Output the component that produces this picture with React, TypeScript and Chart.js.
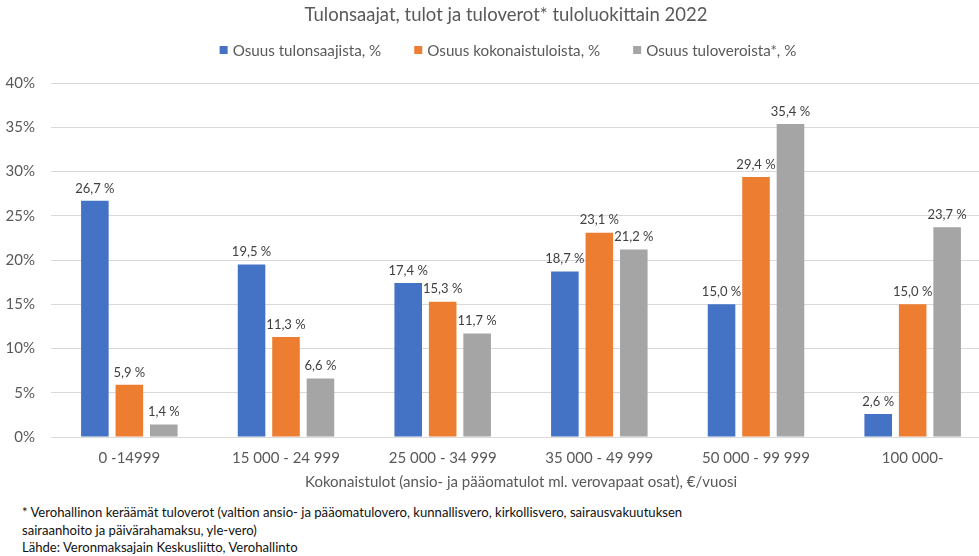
import React, { useEffect, useRef } from "react";
import { Chart, registerables } from "chart.js";

Chart.register(...registerables);

const titleText = "Tulonsaajat, tulot ja tuloverot* tuloluokittain 2022";
const categories = ["0 -14999", "15 000 - 24 999", "25 000 - 34 999", "35 000 - 49 999", "50 000 - 99 999", "100 000-"];
const seriesNames = ["Osuus tulonsaajista, %", "Osuus kokonaistuloista, %", "Osuus tuloveroista*, %"];
const shareOfEarners = [26.7, 19.5, 17.4, 18.7, 15.0, 2.6];
const shareOfIncome = [5.9, 11.3, 15.3, 23.1, 29.4, 15.0];
const shareOfTaxes = [1.4, 6.6, 11.7, 21.2, 35.4, 23.7];
const seriesColors = ["#4472C4", "#ED7D31", "#A5A5A5"];
const yMin = 0;
const yMax = 40;
const yStep = 5;
const xAxisTitle = "Kokonaistulot (ansio- ja pääomatulot ml. verovapaat osat), €/vuosi";
const footnoteLines = [
  "* Verohallinon keräämät tuloverot (valtion ansio- ja pääomatulovero, kunnallisvero, kirkollisvero, sairausvakuutuksen",
  "sairaanhoito ja päivärahamaksu, yle-vero)",
  "Lähde: Veronmaksajain Keskusliitto, Verohallinto",
];

const FONT = "Lato, 'Open Sans', sans-serif";
const TEXT = "#595959";

const fmt = (v: number) => v.toFixed(1).replace(".", ",") + " %";

const dataLabelPlugin = {
  id: "dataLabels",
  afterDatasetsDraw(chart: any) {
    const ctx = chart.ctx;
    ctx.save();
    ctx.font = `13px ${FONT}`;
    ctx.fillStyle = "#404040";
    ctx.textAlign = "center";
    ctx.textBaseline = "bottom";
    chart.data.datasets.forEach((ds: any, i: number) => {
      const meta = chart.getDatasetMeta(i);
      meta.data.forEach((el: any, j: number) => {
        ctx.fillText(fmt(ds.data[j]), el.x, el.y - 6);
      });
    });
    ctx.restore();
  },
};

const titleShiftPlugin = {
  id: "titleShift",
  afterLayout(chart: any) {
    const tb = chart.titleBlock;
    if (tb) {
      tb.left = 21;
      tb.right = 991;
      tb.width = tb.right - tb.left;
    }
  },
};

const customLegendPlugin = {
  id: "customLegend",
  afterDraw(chart: any) {
    const ctx = chart.ctx;
    ctx.save();
    ctx.font = `15.2px ${FONT}`;
    const box = 8;
    const boxGap = 5;
    const itemGap = 33;
    const widths = seriesNames.map((n) => box + boxGap + ctx.measureText(n).width);
    const total = widths.reduce((a, b) => a + b, 0) + itemGap * (widths.length - 1);
    let x = 508 - total / 2;
    const y = 50;
    ctx.textBaseline = "middle";
    ctx.textAlign = "left";
    seriesNames.forEach((n, i) => {
      ctx.fillStyle = seriesColors[i];
      ctx.fillRect(x, y - box / 2, box, box);
      ctx.fillStyle = TEXT;
      ctx.fillText(n, x + box + boxGap, y + 1);
      x += widths[i] + itemGap;
    });
    ctx.restore();
  },
};

export default function App() {
  const ref = useRef<HTMLCanvasElement | null>(null);

  useEffect(() => {
    if (!ref.current) return;
    const chart = new Chart(ref.current, {
      type: "bar",
      data: {
        labels: categories,
        datasets: [
          { label: seriesNames[0], data: shareOfEarners, backgroundColor: seriesColors[0] },
          { label: seriesNames[1], data: shareOfIncome, backgroundColor: seriesColors[1] },
          { label: seriesNames[2], data: shareOfTaxes, backgroundColor: seriesColors[2] },
        ],
      },
      options: {
        responsive: false,
        animation: false,
        devicePixelRatio: 1,
        layout: { padding: { left: 0, right: 23, top: 0, bottom: 5 } },
        datasets: {
          bar: { categoryPercentage: 0.66, barPercentage: 0.8 },
        },
        plugins: {
          legend: { display: false },
          tooltip: { enabled: false },
          title: {
            display: true,
            text: titleText,
            color: TEXT,
            font: { family: FONT, size: 18.5, weight: "normal" },
            padding: { top: 4, bottom: 57 },
          },
        },
        scales: {
          x: {
            grid: { display: false, drawTicks: false },
            border: { display: true, color: "#D9D9D9" },
            ticks: { color: TEXT, font: { family: FONT, size: 15 }, padding: 12, maxRotation: 0, autoSkip: false },
            title: {
              display: true,
              text: xAxisTitle,
              color: TEXT,
              font: { family: FONT, size: 15 },
              padding: { top: 6, bottom: 4 },
            },
            afterFit: (scale: any) => {
              scale.height = 58;
            },
          },
          y: {
            min: yMin,
            max: yMax,
            border: { display: false },
            grid: { color: "#D9D9D9", drawTicks: false },
            ticks: {
              stepSize: yStep,
              color: TEXT,
              font: { family: FONT, size: 15 },
              padding: 16,
              callback: (v: any) => `${v}%`,
            },
            afterFit: (scale: any) => {
              scale.width = 51;
            },
          },
        },
      },
      plugins: [dataLabelPlugin, customLegendPlugin, titleShiftPlugin],
    });
    return () => chart.destroy();
  }, []);

  return (
    <div style={{ position: "fixed", left: 0, top: 0, width: 979, height: 556, overflow: "hidden", background: "#fff" }}>
      <canvas ref={ref} width={1014} height={500} style={{ position: "absolute", left: 0, top: 0 }} />
      <div
        style={{
          position: "absolute",
          left: 22,
          top: 504,
          fontFamily: FONT,
          fontSize: 13.1,
          lineHeight: "17.5px",
          color: "#111",
          whiteSpace: "nowrap",
        }}
      >
        {footnoteLines.map((l, i) => (
          <div key={i}>{l}</div>
        ))}
      </div>
    </div>
  );
}
